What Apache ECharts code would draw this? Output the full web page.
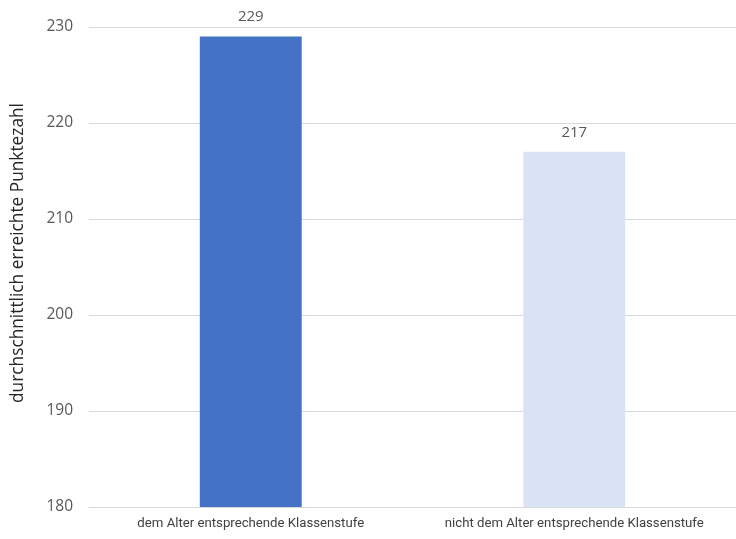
<!DOCTYPE html>
<html>
<head>
<meta charset="utf-8">
<script src="https://cdn.jsdelivr.net/npm/echarts@6/dist/echarts.min.js"></script>
<style>
  html, body { margin: 0; padding: 0; background: #fff; }
  #chart { width: 736px; height: 539px; }
</style>
</head>
<body>
<div id="chart"></div>
<script>
// Average score by grade placement
const categories = ['dem Alter entsprechende Klassenstufe', 'nicht dem Alter entsprechende Klassenstufe'];
const scores = [229, 217];
const barColors = ['#4472C4', '#DAE3F3'];
const yTicks = { min: 180, max: 230, interval: 10 };

const chart = echarts.init(document.getElementById('chart'));
const font = 'Open Sans, Noto Sans, sans-serif';
const narrowFont = 'Roboto, Open Sans, sans-serif';

chart.setOption({
  animation: false,
  grid: { left: 89, right: 0, top: 27, bottom: 32 },
  xAxis: {
    type: 'category',
    data: categories,
    axisLine: { lineStyle: { color: '#d9d9d9' } },
    axisTick: { show: false },
    axisLabel: { color: '#404040', fontFamily: narrowFont, fontSize: 13.2, margin: 10, interval: 0 }
  },
  yAxis: {
    type: 'value',
    min: yTicks.min, max: yTicks.max, interval: yTicks.interval,
    name: 'durchschnittlich erreichte Punktezahl',
    nameLocation: 'middle',
    nameGap: 62,
    nameTextStyle: { color: '#262626', fontFamily: font, fontSize: 17.3, padding: [0, 0, 0, 28] },
    axisLine: { show: false },
    axisTick: { show: false },
    axisLabel: { color: '#595959', fontFamily: font, fontSize: 15.5, margin: 16 },
    splitLine: { lineStyle: { color: '#d9d9d9' } }
  },
  series: [{
    type: 'bar',
    barWidth: '31.5%',
    data: scores.map((v, i) => ({ value: v, itemStyle: { color: barColors[i] } })),
    label: {
      show: true, position: 'top', distance: 12,
      color: '#595959', fontFamily: font, fontSize: 15
    }
  }]
});
</script>
</body>
</html>
